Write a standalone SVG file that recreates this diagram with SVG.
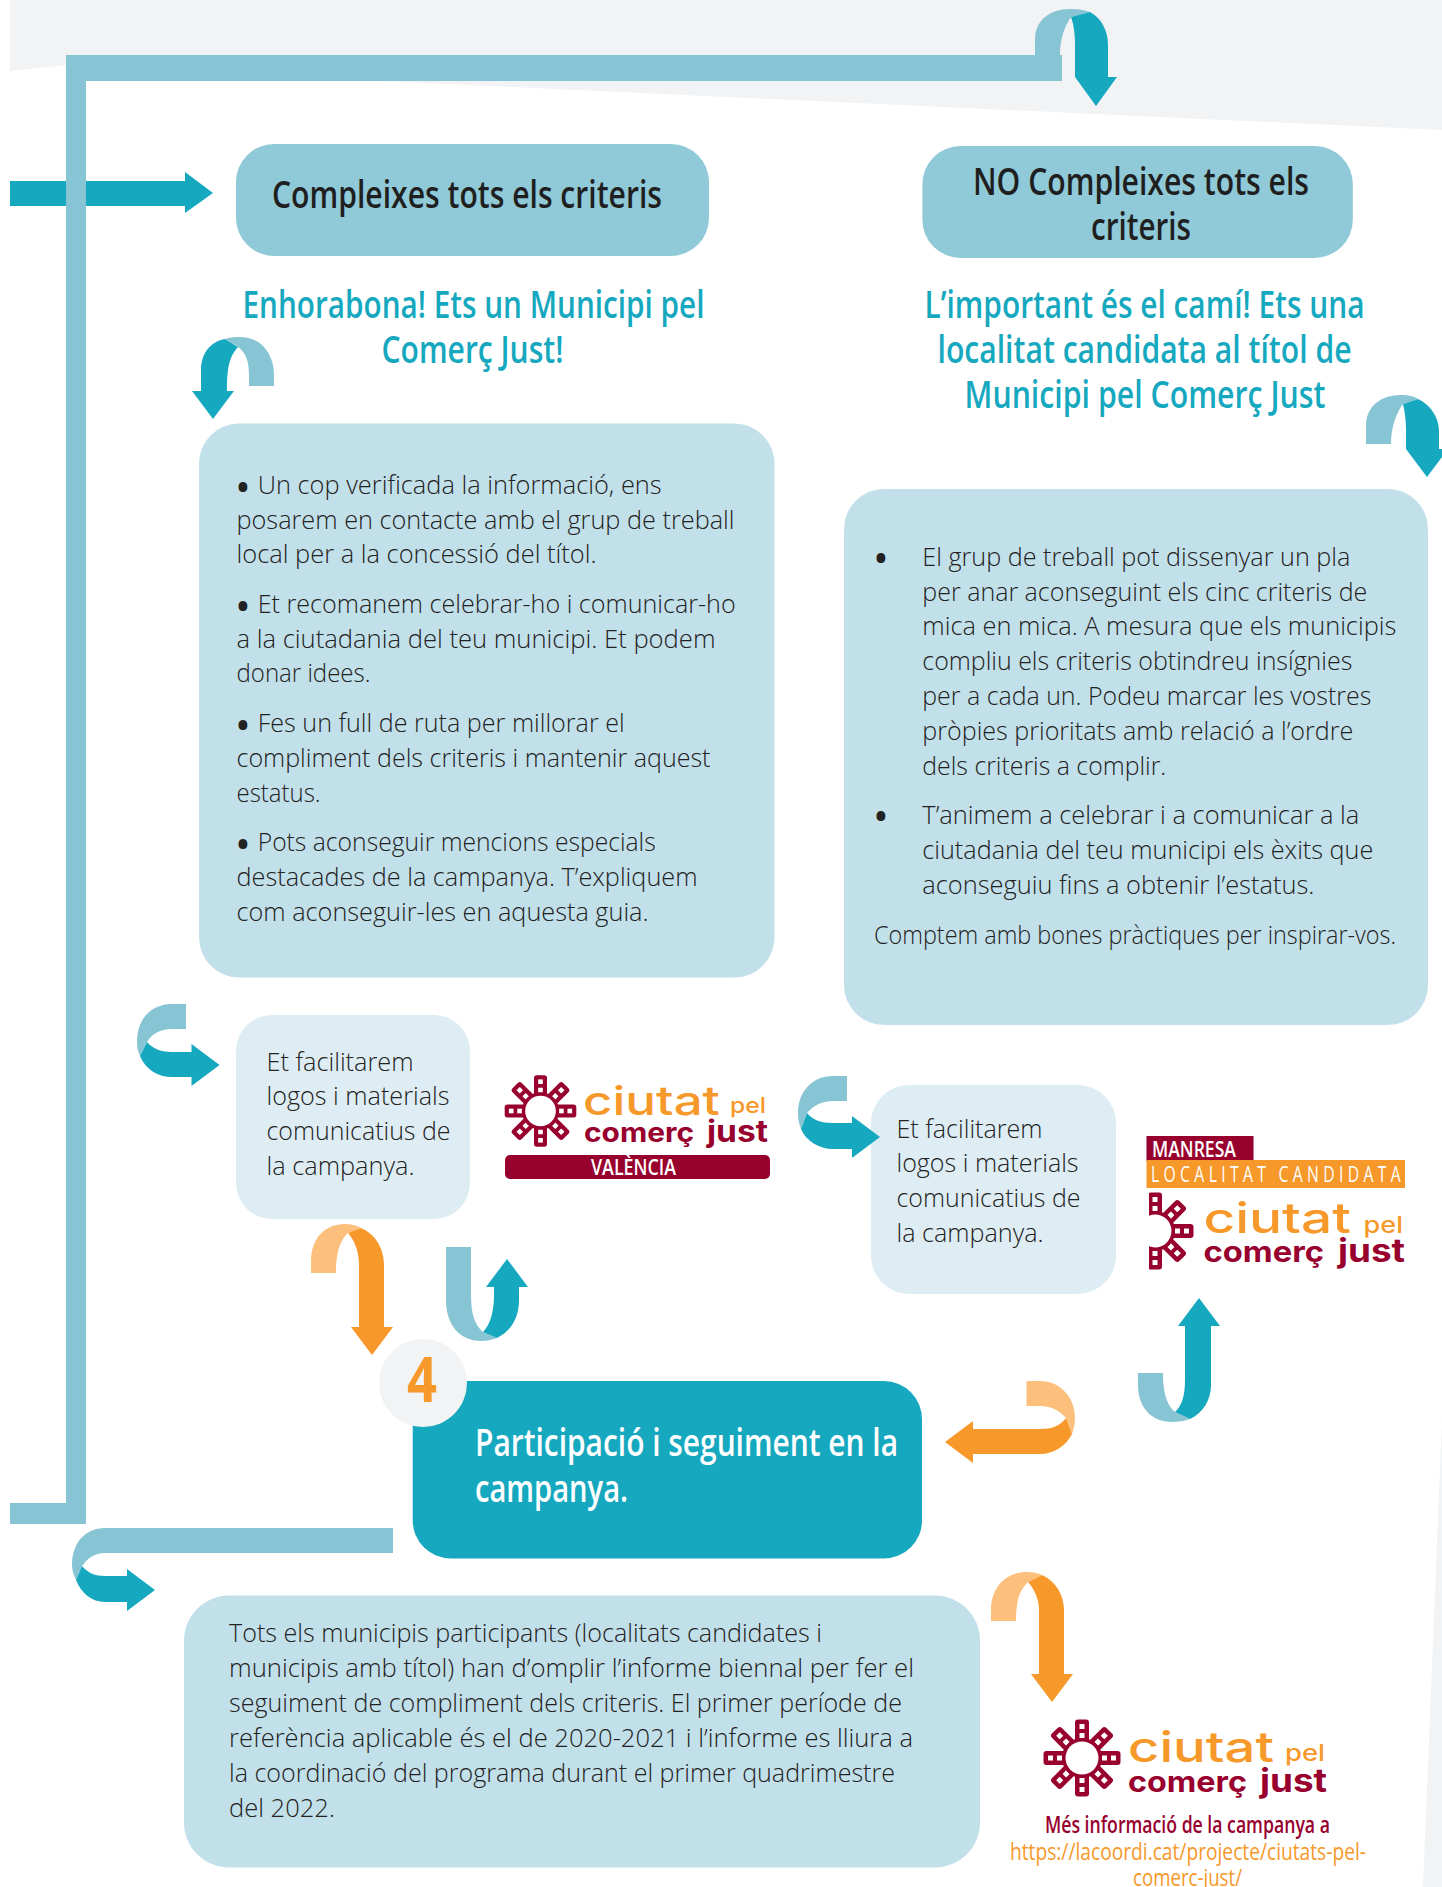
<svg xmlns="http://www.w3.org/2000/svg" width="1442" height="1887" viewBox="0 0 1442 1887">
<style>
.h{font-family:"Open Sans","Noto Sans",sans-serif;font-weight:600;font-size:38px}
.b{font-family:"Open Sans","Noto Sans",sans-serif;font-weight:300;font-size:26.5px;fill:#222}
.bu{font-family:"Open Sans","Noto Sans",sans-serif;font-size:42px;fill:#222}
.dk{fill:#1f1f1f}.tl{fill:#16a8bf}.wh{fill:#fff}
.c{fill:#16a8bf}.cl{fill:#88c5d4}.o{fill:#f7982a}.ol{fill:#fdc07c}
.lc{font-family:"Inter","Noto Sans",sans-serif;fill:#f7982a;font-weight:500}
.lm{font-family:"Inter","Noto Sans",sans-serif;fill:#98002e;font-weight:700}
.n{font-family:"Open Sans","Noto Sans",sans-serif;font-weight:600}
.m{fill:#98002e}
</style>
<defs>
<g id="ray"><rect x="15" y="-7" width="23.5" height="14" rx="3" fill="#98002e"/><rect x="20" y="-2.5" width="5" height="5" fill="#fff"/><rect x="29" y="-2.5" width="5" height="5" fill="#fff"/></g>
<g id="sun"><use href="#ray"/><use href="#ray" transform="rotate(45)"/><use href="#ray" transform="rotate(90)"/><use href="#ray" transform="rotate(135)"/><use href="#ray" transform="rotate(180)"/><use href="#ray" transform="rotate(225)"/><use href="#ray" transform="rotate(270)"/><use href="#ray" transform="rotate(315)"/><circle r="20" fill="#98002e"/><circle r="16.5" fill="#fff"/></g>
<clipPath id="halfsun"><rect x="1149" y="1180" width="60" height="100"/></clipPath>
</defs>
<rect width="1442" height="1887" fill="#fff"/>
<polygon points="10,0 1442,0 1442,130 360,80 66,65 40,68 10,71" fill="#f1f3f5"/>
<polygon points="1442,1420 1423,1887 1442,1887" fill="#f1f3f5"/>

<g id="node-complies">
<rect x="236" y="144" width="473" height="112" rx="38" fill="#90c9d7"/>
<text class="h dk" transform="translate(272 208) scale(.72 1)" textLength="541.700" lengthAdjust="spacingAndGlyphs">Compleixes tots els criteris</text>
</g>
<g id="node-not-complies">
<rect x="922.400" y="146" width="430.400" height="112" rx="38" fill="#90c9d7"/>
<text class="h dk" transform="translate(973 195) scale(.72 1)" textLength="466.700" lengthAdjust="spacingAndGlyphs">NO Compleixes tots els</text>
<text class="h dk" transform="translate(1091 240) scale(.72 1)" textLength="138.900" lengthAdjust="spacingAndGlyphs">criteris</text>
</g>
<g id="node-congrats">
<text class="h tl" transform="translate(242.500 318) scale(.72 1)" textLength="641.700" lengthAdjust="spacingAndGlyphs">Enhorabona! Ets un Municipi pel</text>
<text class="h tl" transform="translate(381.500 363) scale(.72 1)" textLength="252.800" lengthAdjust="spacingAndGlyphs">Comerç Just!</text>
</g>
<g id="node-path">
<text class="h tl" transform="translate(924.500 318) scale(.72 1)" textLength="611.100" lengthAdjust="spacingAndGlyphs">L’important és el camí! Ets una</text>
<text class="h tl" transform="translate(937.500 363) scale(.72 1)" textLength="575" lengthAdjust="spacingAndGlyphs">localitat candidata al títol de</text>
<text class="h tl" transform="translate(964.500 408) scale(.72 1)" textLength="501.400" lengthAdjust="spacingAndGlyphs">Municipi pel Comerç Just</text>
</g>
<g id="node-list-left">
<rect x="199" y="423.500" width="575.500" height="554" rx="40" fill="#c2e0e9"/>
<text class="bu" x="235" y="502">•</text>
<text class="b" x="257.700" y="493.500" textLength="404" lengthAdjust="spacingAndGlyphs">Un cop verificada la informació, ens</text>
<text class="b" x="236.500" y="528.500" textLength="498" lengthAdjust="spacingAndGlyphs">posarem en contacte amb el grup de treball</text>
<text class="b" x="236.500" y="563" textLength="360" lengthAdjust="spacingAndGlyphs">local per a la concessió del títol.</text>
<text class="bu" x="235" y="621">•</text>
<text class="b" x="257.700" y="613" textLength="478" lengthAdjust="spacingAndGlyphs">Et recomanem celebrar-ho i comunicar-ho</text>
<text class="b" x="236.500" y="648" textLength="479" lengthAdjust="spacingAndGlyphs">a la ciutadania del teu municipi. Et podem</text>
<text class="b" x="236.500" y="682" textLength="134" lengthAdjust="spacingAndGlyphs">donar idees.</text>
<text class="bu" x="235" y="740">•</text>
<text class="b" x="257.700" y="732" textLength="367" lengthAdjust="spacingAndGlyphs">Fes un full de ruta per millorar el</text>
<text class="b" x="236.500" y="767" textLength="474" lengthAdjust="spacingAndGlyphs">compliment dels criteris i mantenir aquest</text>
<text class="b" x="236.500" y="802" textLength="84" lengthAdjust="spacingAndGlyphs">estatus.</text>
<text class="bu" x="235" y="859">•</text>
<text class="b" x="257.700" y="851" textLength="398" lengthAdjust="spacingAndGlyphs">Pots aconseguir mencions especials</text>
<text class="b" x="236.500" y="886" textLength="461" lengthAdjust="spacingAndGlyphs">destacades de la campanya. T’expliquem</text>
<text class="b" x="236.500" y="921" textLength="412" lengthAdjust="spacingAndGlyphs">com aconseguir-les en aquesta guia.</text>
</g>
<g id="node-list-right">
<rect x="844" y="489" width="584" height="536" rx="40" fill="#c2e0e9"/>
<text class="bu" x="873" y="573">•</text>
<text class="b" x="922.300" y="566" textLength="428" lengthAdjust="spacingAndGlyphs">El grup de treball pot dissenyar un pla</text>
<text class="b" x="922.300" y="601" textLength="445" lengthAdjust="spacingAndGlyphs">per anar aconseguint els cinc criteris de</text>
<text class="b" x="922.300" y="635" textLength="474" lengthAdjust="spacingAndGlyphs">mica en mica. A mesura que els municipis</text>
<text class="b" x="922.300" y="670" textLength="430" lengthAdjust="spacingAndGlyphs">compliu els criteris obtindreu insígnies</text>
<text class="b" x="922.300" y="705" textLength="449" lengthAdjust="spacingAndGlyphs">per a cada un. Podeu marcar les vostres</text>
<text class="b" x="922.300" y="739.500" textLength="431" lengthAdjust="spacingAndGlyphs">pròpies prioritats amb relació a l’ordre</text>
<text class="b" x="922.300" y="774.500" textLength="244" lengthAdjust="spacingAndGlyphs">dels criteris a complir.</text>
<text class="bu" x="873" y="831">•</text>
<text class="b" x="922.300" y="824" textLength="437" lengthAdjust="spacingAndGlyphs">T’animem a celebrar i a comunicar a la</text>
<text class="b" x="922.300" y="859" textLength="451" lengthAdjust="spacingAndGlyphs">ciutadania del teu municipi els èxits que</text>
<text class="b" x="922.300" y="894" textLength="392" lengthAdjust="spacingAndGlyphs">aconseguiu fins a obtenir l’estatus.</text>
<text class="b" transform="translate(874 943.500) scale(.82 1)" textLength="636.600" lengthAdjust="spacingAndGlyphs">Comptem amb bones pràctiques per inspirar-vos.</text>
</g>
<g id="node-materials-left">
<rect x="236" y="1015" width="234" height="204" rx="36" fill="#deedf3"/>
<text class="b" x="266.500" y="1071" textLength="147" lengthAdjust="spacingAndGlyphs">Et facilitarem</text>
<text class="b" x="266.500" y="1105" textLength="183" lengthAdjust="spacingAndGlyphs">logos i materials</text>
<text class="b" x="266.500" y="1140" textLength="184" lengthAdjust="spacingAndGlyphs">comunicatius de</text>
<text class="b" x="266.500" y="1175" textLength="148" lengthAdjust="spacingAndGlyphs">la campanya.</text>
</g>
<g id="node-logo-valencia">
<use href="#sun" transform="translate(540.500 1111) scale(.93)"/>
<text class="lc" x="583" y="1115" font-size="40" textLength="137" lengthAdjust="spacingAndGlyphs">ciutat</text>
<text class="lc" x="730" y="1113" font-size="22" textLength="36" lengthAdjust="spacingAndGlyphs">pel</text>
<text class="lm" x="584" y="1142" font-size="27" textLength="110" lengthAdjust="spacingAndGlyphs">comerç</text>
<text class="lm" x="707" y="1142" font-size="30" textLength="61" lengthAdjust="spacingAndGlyphs">just</text>
<rect x="505" y="1155" width="265" height="24" rx="5" class="m"/>
<text class="n wh" transform="translate(591 1175) scale(.77 1)" font-size="21" textLength="110.400" lengthAdjust="spacingAndGlyphs">VALÈNCIA</text>
</g>
<g id="node-materials-right">
<rect x="871" y="1085" width="245" height="209" rx="38" fill="#deedf3"/>
<text class="b" x="896.500" y="1138" textLength="146" lengthAdjust="spacingAndGlyphs">Et facilitarem</text>
<text class="b" x="896.500" y="1172" textLength="182" lengthAdjust="spacingAndGlyphs">logos i materials</text>
<text class="b" x="896.500" y="1207" textLength="184" lengthAdjust="spacingAndGlyphs">comunicatius de</text>
<text class="b" x="896.500" y="1242" textLength="147" lengthAdjust="spacingAndGlyphs">la campanya.</text>
</g>
<g id="node-logo-manresa">
<rect x="1146.500" y="1136" width="107" height="25" class="m"/>
<text class="n wh" transform="translate(1152 1157) scale(.8 1)" font-size="22" textLength="105" lengthAdjust="spacingAndGlyphs">MANRESA</text>
<rect x="1146.500" y="1160" width="258.500" height="28" class="o"/>
<text class="n wh" style="font-weight:400" transform="translate(1151 1182) scale(.75 1)" font-size="21" textLength="333" lengthAdjust="spacing">LOCALITAT CANDIDATA</text>
<g clip-path="url(#halfsun)"><use href="#sun" transform="translate(1155 1231)"/></g>
<text class="lc" x="1203.500" y="1233" font-size="42" textLength="147.500" lengthAdjust="spacingAndGlyphs">ciutat</text>
<text class="lc" x="1363.500" y="1233" font-size="23" textLength="39.500" lengthAdjust="spacingAndGlyphs">pel</text>
<text class="lm" x="1203.500" y="1262" font-size="29" textLength="120.500" lengthAdjust="spacingAndGlyphs">comerç</text>
<text class="lm" x="1338" y="1262" font-size="32" textLength="67" lengthAdjust="spacingAndGlyphs">just</text>
</g>
<g id="node-step-4">
<rect x="412.700" y="1381" width="509.300" height="177.500" rx="38" fill="#16a8bf"/>
<circle cx="423" cy="1383" r="44" fill="#f1f3f5"/>
<text class="n o" style="font-weight:700" x="407" y="1402" font-size="62" textLength="30" lengthAdjust="spacingAndGlyphs">4</text>
<text class="h wh" transform="translate(475 1456) scale(.72 1)" textLength="587.500" lengthAdjust="spacingAndGlyphs">Participació i seguiment en la</text>
<text class="h wh" transform="translate(475 1502) scale(.72 1)" textLength="212.500" lengthAdjust="spacingAndGlyphs">campanya.</text>
</g>
<g id="node-report">
<rect x="184" y="1595.500" width="796" height="272" rx="45" fill="#c2e0e9"/>
<text class="b" x="229" y="1642" textLength="593" lengthAdjust="spacingAndGlyphs">Tots els municipis participants (localitats candidates i</text>
<text class="b" x="229" y="1677" textLength="685" lengthAdjust="spacingAndGlyphs">municipis amb títol) han d’omplir l’informe biennal per fer el</text>
<text class="b" x="229" y="1712" textLength="673" lengthAdjust="spacingAndGlyphs">seguiment de compliment dels criteris. El primer període de</text>
<text class="b" x="229" y="1747" textLength="684" lengthAdjust="spacingAndGlyphs">referència aplicable és el de 2020-2021 i l’informe es lliura a</text>
<text class="b" x="229" y="1782" textLength="666" lengthAdjust="spacingAndGlyphs">la coordinació del programa durant el primer quadrimestre</text>
<text class="b" x="229" y="1817" textLength="106" lengthAdjust="spacingAndGlyphs">del 2022.</text>
</g>
<g id="node-logo-main">
<use href="#sun" transform="translate(1082 1758)"/>
<text class="lc" x="1128" y="1762" font-size="42" textLength="146" lengthAdjust="spacingAndGlyphs">ciutat</text>
<text class="lc" x="1285" y="1761" font-size="23" textLength="40" lengthAdjust="spacingAndGlyphs">pel</text>
<text class="lm" x="1128" y="1792" font-size="29" textLength="119" lengthAdjust="spacingAndGlyphs">comerç</text>
<text class="lm" x="1260" y="1792" font-size="32" textLength="67" lengthAdjust="spacingAndGlyphs">just</text>
<text class="n m" transform="translate(1045 1833) scale(.74 1)" font-size="23" textLength="385" lengthAdjust="spacingAndGlyphs">Més informació de la campanya a</text>
<text class="n o" style="font-weight:400" transform="translate(1010 1860) scale(.74 1)" font-size="23" textLength="481" lengthAdjust="spacingAndGlyphs">https://lacoordi.cat/projecte/ciutats-pel-</text>
<text class="n o" style="font-weight:400" transform="translate(1133 1886) scale(.74 1)" font-size="23" textLength="147.300" lengthAdjust="spacingAndGlyphs">comerc-just/</text>
</g>

<g id="connectors">
<path class="c" d="M10 181H185V172L213 193L185 213V206H10Z"/>
<path class="cl" d="M66 55H1062V81H86V1524H10V1503H66Z"/>
<path class="cl" d="M1035 55V40C1035 20 1050 9 1070 9C1078 9 1085 10 1090 12L1071 17C1065 26 1060 38 1060 55Z"/>
<path class="c" d="M1090 12C1101 18 1108 30 1108 45V77H1117L1096 106L1075 77V45C1075 35 1074 25 1071 17Z"/>
<path class="c" d="M201 391V370C201 352 212 341 225 339L238 347C230 356 227 365 227 391H234L213 419L192 391Z"/>
<path class="cl" d="M225 339C232 337 236 337 240 337C262 337 274 355 274 375V386H249V375C249 360 245 352 238 347Z"/>
<path class="cl" d="M1366 444V426C1366 406 1381 395 1401 395C1408 395 1414 396 1418 399L1403 404C1397 412 1391 426 1391 444Z"/>
<path class="c" d="M1418 399C1431 405 1439 418 1439 431V449H1448L1427 477L1406 449V431C1406 421 1405 412 1403 404Z"/>
<path class="cl" d="M186 1004H172C150 1004 137 1020 137 1042C137 1047 138 1052 140 1056L147 1042C152 1034 160 1029 172 1029H186Z"/>
<path class="c" d="M140 1056C146 1070 158 1077 172 1077H191.500V1086L219.600 1065L191.500 1044V1052H172C160 1052 152 1048 147 1042Z"/>
<path class="ol" d="M311 1273V1262C311 1238 325 1224 345 1224C351 1224 356 1225 361 1228L348 1233C341 1240 336 1250 336 1273Z"/>
<path class="o" d="M361 1228C375 1234 384 1248 384 1265V1327H393L372 1355L351 1327H359V1265C359 1252 355 1241 348 1233Z"/>
<path class="cl" d="M446 1247V1300C446 1325 460 1341 481 1341C487 1341 492 1340 497 1338L483 1332C475 1325 471 1315 471 1295V1247Z"/>
<path class="c" d="M497 1338C511 1331 519 1318 519 1300V1287H528L507 1259L486 1287H494V1295C494 1312 490 1325 483 1332Z"/>
<path class="cl" d="M847 1076H833C812 1076 798 1092 798 1113C798 1119 799 1124 801 1129L807 1113C813 1106 821 1101 833 1101H847Z"/>
<path class="c" d="M801 1129C806 1141 819 1149 833 1149H852V1158L880 1137L852 1116V1123H833C821 1123 813 1120 807 1113Z"/>
<path class="cl" d="M1138 1373V1385C1138 1408 1152 1422 1172 1422C1178 1422 1185 1421 1190 1419L1175 1412C1168 1406 1163 1395 1163 1373Z"/>
<path class="c" d="M1190 1419C1203 1413 1211 1400 1211 1385V1326H1220L1199 1298L1178 1326H1185V1380C1185 1395 1182 1406 1175 1412Z"/>
<path class="ol" d="M1026.500 1381H1040C1060 1381 1075 1397 1075 1418C1075 1423 1074 1428 1072 1434L1066 1418C1060 1411 1052 1406 1040 1406H1026.500Z"/>
<path class="o" d="M1072 1434C1066 1446 1054 1454 1040 1454H973V1463L945 1442L973 1421V1429H1040C1052 1429 1060 1426 1066 1418Z"/>
<path class="cl" d="M393 1528H105C85 1528 72 1543 72 1565C72 1571 74 1576 76 1580L82 1566C88 1558 95 1553 105 1553H393Z"/>
<path class="c" d="M76 1580C81 1593 92 1602 105 1602H127V1611L155 1590L127 1569V1576H105C95 1576 88 1573 82 1566Z"/>
<path class="ol" d="M991 1621V1610C991 1586 1007 1572 1027 1572C1033 1572 1038 1573 1042 1575L1028 1582C1021 1589 1016 1598 1016 1621Z"/>
<path class="o" d="M1042 1575C1055 1581 1064 1594 1064 1610V1674H1073L1052 1702L1031 1674H1039V1610C1039 1600 1035 1590 1028 1582Z"/>
</g>
</svg>
